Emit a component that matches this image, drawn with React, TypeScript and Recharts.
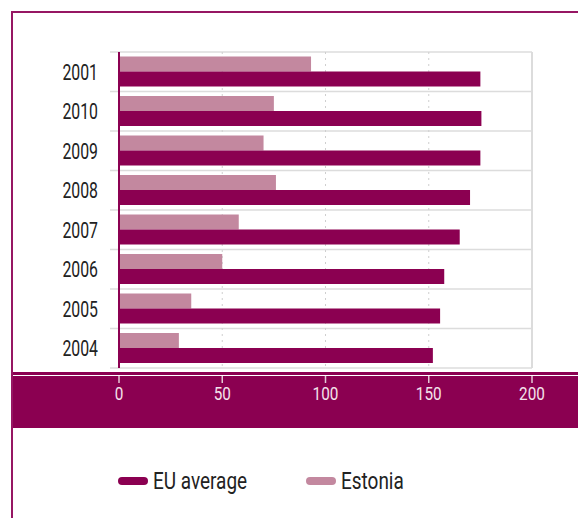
import React from 'react';
import { BarChart, Bar, XAxis, YAxis, CartesianGrid, ReferenceLine, Legend } from 'recharts';

const years = ['2001', '2010', '2009', '2008', '2007', '2006', '2005', '2004'];
const estonia = [93, 75, 70, 76, 58, 50, 35, 29];
const euAverage = [175, 175.5, 175, 170, 165, 157.5, 155.5, 152];
const xTicks = [0, 50, 100, 150, 200];

const DARK = '#8b0051';
const LIGHT = '#c3889f';
const FRAME = '#961663';
const GRID = '#dcdcdc';
const FONT = 'Roboto, "Noto Sans", sans-serif';

const data = years.map((y, i) => ({ year: y, estonia: estonia[i], eu: euAverage[i] }));

const legendItems = [
  { name: 'EU average', color: DARK, icon: 118, text: 153 },
  { name: 'Estonia', color: LIGHT, icon: 306, text: 341 },
];

const XTick = (props: any) => {
  const { x, y, payload } = props;
  return (
    <g>
      <line x1={x} x2={x} y1={y + 8} y2={y + 15} stroke="#e3c9d6" strokeWidth={1.5} />
      <g transform={`translate(${x},${y + 32})`}>
        <text transform="scale(0.85,1)" textAnchor="middle" fill="#f4e2eb" fontSize={18} fontFamily={FONT}>
          {payload.value}
        </text>
      </g>
    </g>
  );
};

const YTick = (props: any) => {
  const { x, y, payload } = props;
  return (
    <g transform={`translate(${x},${y})`}>
      <text transform="scale(0.72,1)" textAnchor="end" dy="0.36em" fill="#222" fontSize={22} fontFamily={FONT}>
        {payload.value}
      </text>
    </g>
  );
};

const rowLines = ({ offset }: any) =>
  Array.from({ length: years.length + 1 }, (_, i) => offset.top + (offset.height * i) / years.length);

const HLine = (props: any) => (
  <line
    key={`h-${props.index}`}
    x1={props.x1 - 9}
    x2={props.x2}
    y1={props.y1}
    y2={props.y2}
    stroke={GRID}
    strokeWidth={1.5}
  />
);

const LegendContent = () => (
  <div style={{ position: 'relative', width: 578, height: 30 }}>
    {legendItems.map((it) => (
      <React.Fragment key={it.name}>
        <div
          style={{
            position: 'absolute',
            left: it.icon,
            top: 11,
            width: 30,
            height: 8,
            borderRadius: 4,
            background: it.color,
          }}
        />
        <div
          style={{
            position: 'absolute',
            left: it.text,
            top: 0,
            lineHeight: '30px',
            fontSize: 24,
            fontFamily: FONT,
            color: '#222',
            whiteSpace: 'nowrap',
            transform: 'scaleX(0.79)',
            transformOrigin: '0 50%',
          }}
        >
          {it.name}
        </div>
      </React.Fragment>
    ))}
  </div>
);

export default function App() {
  return (
    <div style={{ position: 'absolute', left: 0, top: 0, width: 578, height: 518, background: '#fff' }}>
      <div style={{ position: 'absolute', left: 11, top: 11, width: 2, height: 507, background: FRAME }} />
      <div style={{ position: 'absolute', left: 11, top: 11, width: 567, height: 2, background: FRAME }} />
      <div style={{ position: 'absolute', left: 13, top: 372, width: 565, height: 56, background: DARK }} />
      <div style={{ position: 'absolute', left: 13, top: 374.5, width: 565, height: 1.5, background: '#fff' }} />
      <BarChart
        width={578}
        height={518}
        data={data}
        layout="vertical"
        margin={{ top: 52, right: 46, bottom: 120, left: 0 }}
        barCategoryGap={4.5}
        barGap={0}
      >
        <YAxis
          type="category"
          dataKey="year"
          width={119}
          tickLine={false}
          tickSize={0}
          tickMargin={21}
          axisLine={{ stroke: DARK, strokeWidth: 2 }}
          tick={<YTick />}
        />
        <XAxis
          type="number"
          domain={[0, 200]}
          ticks={xTicks}
          height={30}
          axisLine={false}
          tickLine={false}
          tickSize={0}
          tickMargin={0}
          tick={<XTick />}
        />
        <CartesianGrid vertical={false} horizontalCoordinatesGenerator={rowLines} horizontal={HLine} />
        <CartesianGrid horizontal={false} stroke="#cfcfcf" strokeDasharray="2 4" />
        <ReferenceLine x={200} stroke={GRID} strokeWidth={2} />
        <Bar dataKey="estonia" name="Estonia" fill={LIGHT} isAnimationActive={false} />
        <Bar dataKey="eu" name="EU average" fill={DARK} isAnimationActive={false} />
        <Legend
          layout="horizontal"
          verticalAlign="middle"
          align="center"
          wrapperStyle={{ top: 466, left: 0, width: 578, height: 30 }}
          content={() => <LegendContent />}
        />
      </BarChart>
    </div>
  );
}
